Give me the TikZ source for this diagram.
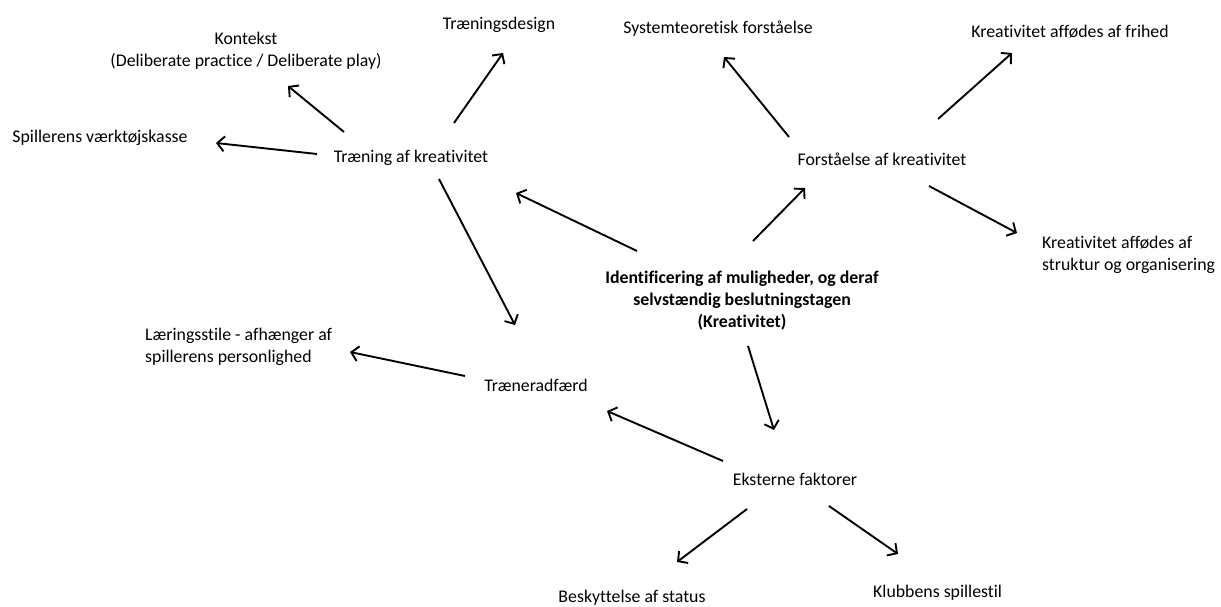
\documentclass[tikz,border=0pt]{standalone}
\usepackage{fontspec}
\setmainfont{Carlito}[Ligatures={NoCommon,NoRequired,NoContextual}]
\usetikzlibrary{arrows.meta}
\begin{document}
\begin{tikzpicture}[x=1pt,y=-1pt,
  lbl/.style={inner sep=0pt, font=\fontsize{17.8}{22}\selectfont, align=center},
  arr/.style={line width=1.9pt, -{Straight Barb[length=7pt,width=15pt,line width=1.9pt]}}]
\useasboundingbox (0,0) rectangle (1221,607);
% texts
\node[lbl] (kontekst) at (246,50.5) {Kontekst\\(Deliberate practice / Deliberate play)};
\node[lbl] (tdesign) at (499,25) {Træningsdesign};
\node[lbl] (system) at (718,29) {Systemteoretisk forståelse};
\node[lbl] (frihed) at (1070,32) {Kreativitet affødes af frihed};
\node[lbl] (spiller) at (100,138) {Spillerens værktøjskasse};
\node[lbl] (traening) at (411,158) {Træning af kreativitet};
\node[lbl] (forst) at (882,159) {Forståelse af kreativitet};
\node[lbl, anchor=west, align=left] (struktur) at (1042,255) {Kreativitet affødes af\\struktur og organisering};
\node[lbl, font=\fontsize{17.8}{22}\selectfont\bfseries] (ident) at (742,301) {Identificering af muligheder, og deraf\\selvstændig beslutningstagen\\(Kreativitet)};
\node[lbl, anchor=west, align=left] (laering) at (145,347) {Læringsstile - afhænger af\\spillerens personlighed};
\node[lbl] (traener) at (536,385) {Træneradfærd};
\node[lbl] (ekst) at (795,479) {Eksterne faktorer};
\node[lbl] (besk) at (632,598) {Beskyttelse af status};
\node[lbl, anchor=west] (klub) at (873,593) {Klubbens spillestil};
% arrow end points
\coordinate (a1s) at (344,132); \coordinate (a1e) at (288,86);
\coordinate (a2s) at (454,123); \coordinate (a2e) at (503,53);
\coordinate (a3s) at (317,154); \coordinate (a3e) at (216,143);
\coordinate (a4s) at (439,179); \coordinate (a4e) at (515,325);
\coordinate (a5s) at (637,251); \coordinate (a5e) at (516,193);
\coordinate (a6s) at (753,241); \coordinate (a6e) at (805,188);
\coordinate (a7s) at (789,137); \coordinate (a7e) at (724,57);
\coordinate (a8s) at (938,119); \coordinate (a8e) at (1012,53);
\coordinate (a9s) at (929,186); \coordinate (a9e) at (1017,233);
\coordinate (a10s) at (748,346); \coordinate (a10e) at (774,430);
\coordinate (a11s) at (465,376); \coordinate (a11e) at (350,352);
\coordinate (a12s) at (723,461); \coordinate (a12e) at (607,411);
\coordinate (a13s) at (747,509); \coordinate (a13e) at (677,562);
\coordinate (a14s) at (829,506); \coordinate (a14e) at (898,554);
\foreach \i in {1,...,14} \draw[arr] (a\i s) -- (a\i e);
\end{tikzpicture}
\end{document}
